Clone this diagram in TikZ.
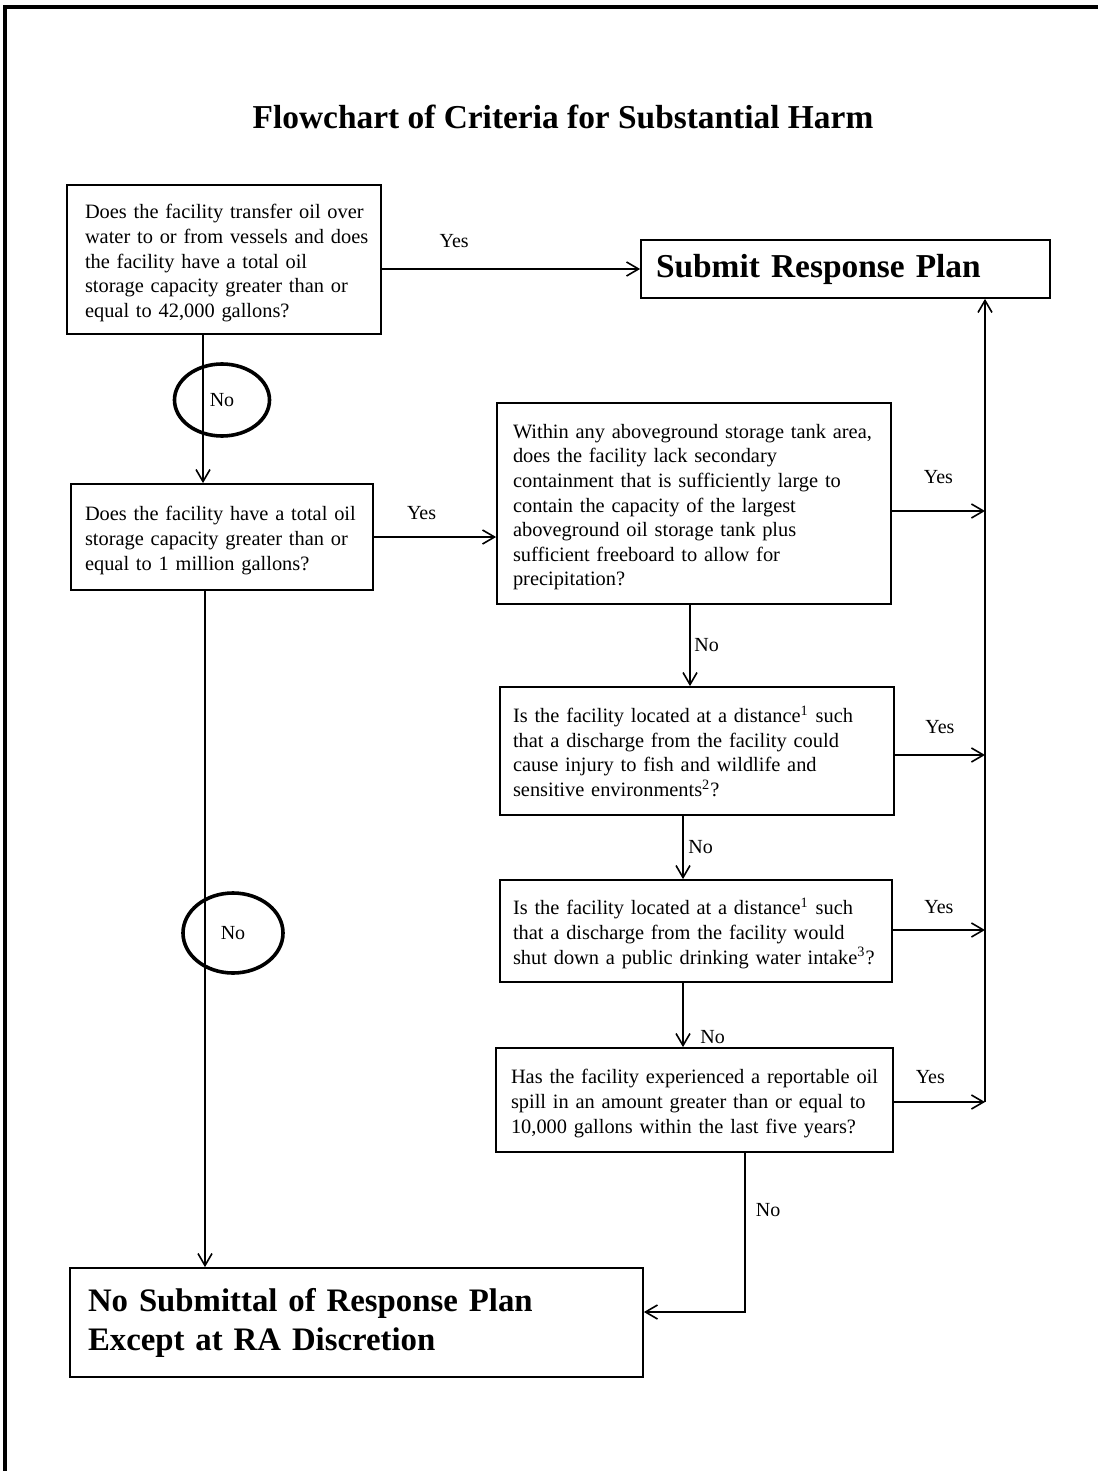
\documentclass[tikz,border=0pt]{standalone}
\usepackage{fontspec}
\setmainfont{Liberation Serif}
\usetikzlibrary{arrows.meta,shapes.geometric}

% lines of a box, broken by hand only
\newcommand{\qlines}[1]{\noindent\raisebox{-1.8pt}[\height][\depth]{\begin{tabular}{@{}l@{}}#1\end{tabular}}}

\tikzset{
  qbox/.style={draw, line width=0.9pt, align=left, inner ysep=0pt,
    font=\fontsize{10.2}{12.3}\selectfont},
  endbox/.style={draw, line width=0.9pt, align=left, inner ysep=0pt,
    font=\fontsize{16.4}{19.5}\selectfont\bfseries},
  nocirc/.style={ellipse, draw, line width=1.8pt, inner sep=0pt,
    font=\fontsize{10}{12}\selectfont},
  lbl/.style={font=\fontsize{10}{12}\selectfont},
  flow/.style={line width=0.8pt, -{Straight Barb[length=6pt,width=7pt]}},
}

\begin{document}
\begin{tikzpicture}[x=0.5pt, y=-0.5pt]
\useasboundingbox (0,0) rectangle (1098,1471);
% page edge (top and left)
\draw[line width=1.6pt] (5,1471) -- (5,7) -- (1098,7);

\node[font=\fontsize{16.7}{20}\selectfont\bfseries] (title) at (563,117) {Flowchart of Criteria for Substantial Harm};

% Questions
\node[qbox, inner xsep=9pt, text width=139pt, minimum height=74.5pt] (q1) at (224,259.5)
  {\qlines{Does the facility transfer oil over\\ water to or from vessels and does\\ the facility have a total oil\\ storage capacity greater than or\\ equal to 42,000 gallons?}};
\node[qbox, inner xsep=7pt, text width=137pt, minimum height=53pt] (q2) at (222,537)
  {\qlines{Does the facility have a total oil\\ storage capacity greater than or\\ equal to 1 million gallons?}};
\node[qbox, inner xsep=8pt, text width=181pt, minimum height=100.5pt] (q3) at (694,503.5)
  {\qlines{Within any aboveground storage tank area,\\ does the facility lack secondary\\ containment that is sufficiently large to\\ contain the capacity of the largest\\ aboveground oil storage tank plus\\ sufficient freeboard to allow for\\ precipitation?}};
\node[qbox, inner xsep=6.5pt, text width=184pt, minimum height=64pt] (q4) at (697,751)
  {\qlines{Is the facility located at a distance\textsuperscript{1} such\\ that a discharge from the facility could\\ cause injury to fish and wildlife and\\ sensitive environments\textsuperscript{2}?}};
\node[qbox, inner xsep=6.5pt, text width=183pt, minimum height=51pt] (q5) at (696,931)
  {\qlines{Is the facility located at a distance\textsuperscript{1} such\\ that a discharge from the facility would\\ shut down a public drinking water intake\textsuperscript{3}?}};
\node[qbox, inner xsep=7.5pt, text width=183.5pt, minimum height=52pt] (q6) at (694.5,1100)
  {\qlines{Has the facility experienced a reportable oil\\ spill in an amount greater than or equal to\\ 10,000 gallons within the last five years?}};

% Outcomes
\node[endbox, font=\fontsize{16.7}{19.5}\selectfont\bfseries, inner xsep=7.5pt, text width=189.5pt, minimum height=29pt] (submit) at (845.5,269)
  {Submit Response Plan};
\node[endbox, inner xsep=9pt, text width=268.5pt, minimum height=54.5pt] (nosub) at (356.5,1322.5)
  {No Submittal of Response Plan\\ Except at RA Discretion};

% circled No marks
\node[nocirc, minimum width=47.5pt, minimum height=36pt] (no1) at (222,400) {No};
\node[nocirc, minimum width=50pt, minimum height=40pt] (no2) at (233,933) {No};

\coordinate (rail) at (985,0);

% Yes branches
\draw[flow] (q1.east |- submit.west) -- node[lbl, pos=0.28, above=7pt] (yes1) {Yes} (submit.west);
\draw[flow] (q2.east) -- node[lbl, pos=0.39, above=5pt] (yes2) {Yes} (q2.east -| q3.west);
\draw[flow] ([yshift=-3.75pt]q3.east) -- node[lbl, above=10pt] (yes3) {Yes} ([yshift=-3.75pt]q3.east -| rail);
\draw[flow] ([yshift=-2pt]q4.east) -- node[lbl, above=7pt] (yes4) {Yes} ([yshift=-2pt]q4.east -| rail);
\draw[flow] ([yshift=0.5pt]q5.east) -- node[lbl, above=4.5pt] (yes5) {Yes} ([yshift=0.5pt]q5.east -| rail);
\draw[flow] ([yshift=-1pt]q6.east) -- node[lbl, pos=0.4, above=5.5pt] (yes6) {Yes} ([yshift=-1pt]q6.east -| rail);
\draw[flow] ([yshift=-1pt]q6.east -| rail) -- (rail |- submit.south);

% No branches
\draw[flow] ([xshift=-10.5pt]q1.south) -- ([xshift=-10.5pt]q1.south |- q2.north);
\draw[flow] ([xshift=-8.5pt]q2.south) -- ([xshift=-8.5pt]q2.south |- nosub.north);
\draw[flow] ([xshift=-2pt]q3.south) -- node[lbl, right=-1.5pt] (no3) {No} ([xshift=-2pt]q3.south |- q4.north);
\draw[flow] ([xshift=-7pt]q4.south) -- node[lbl, right=-1pt] (no4) {No} ([xshift=-7pt]q4.south |- q5.north);
\draw[flow] ([xshift=-6.5pt]q5.south) -- node[lbl, pos=0.85, right=5pt] (no5) {No} ([xshift=-6.5pt]q5.south |- q6.north);
\draw[flow] ([xshift=25.25pt]q6.south) |- node[lbl, pos=0.18, right=1.7pt] (no6) {No} ([yshift=5.25pt]nosub.east);
\end{tikzpicture}
\end{document}
